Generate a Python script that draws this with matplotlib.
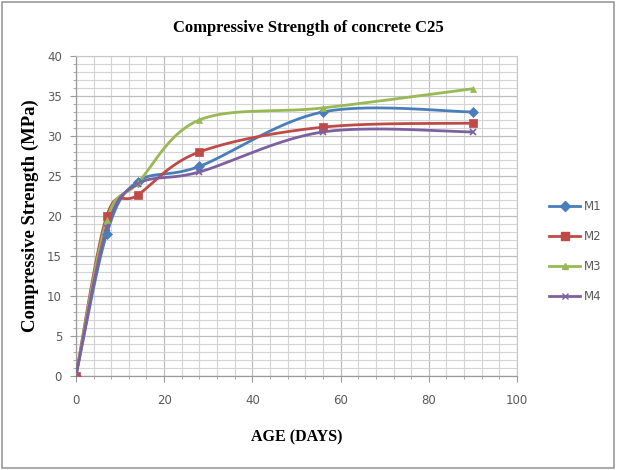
import numpy as np
import matplotlib
matplotlib.use("Agg")
import matplotlib.pyplot as plt
from matplotlib.patches import Rectangle
from matplotlib.ticker import MultipleLocator

age = [0, 7, 14, 28, 56, 90]
series_names = ["M1", "M2", "M3", "M4"]
m1 = [0, 17.8, 24.3, 26.2, 33.0, 33.0]
m2 = [0, 20.0, 22.6, 28.0, 31.1, 31.6]
m3 = [0, 19.5, 24.1, 32.0, 33.5, 35.9]
m4 = [0, 18.5, 24.0, 25.5, 30.5, 30.5]
colors = ["#4A7EBB", "#BE4B48", "#98B954", "#7D60A0"]
markers = ["D", "s", "^", "x"]

title = "Compressive Strength of concrete C25"
xlabel = "AGE (DAYS)"
ylabel = "Compressive Strength (MPa)"


def smooth(xs, ys, sx=4.41, sy=8.0, n=40):
    # Excel-like smoothing: Catmull-Rom Bezier in screen-scaled space
    P = np.column_stack([np.asarray(xs, float) * sx, np.asarray(ys, float) * sy])
    out = [P[0]]
    N = len(P)
    t = np.linspace(0, 1, n)[1:, None]
    for i in range(N - 1):
        p0 = P[i - 1] if i > 0 else P[i]
        p1 = P[i]
        p2 = P[i + 1]
        p3 = P[i + 2] if i + 2 < N else P[i + 1]
        b1 = p1 + (p2 - p0) / 6.0
        b2 = p2 - (p3 - p1) / 6.0
        seg = ((1 - t) ** 3) * p1 + 3 * ((1 - t) ** 2) * t * b1 + 3 * (1 - t) * t ** 2 * b2 + t ** 3 * p2
        out.extend(seg)
    out = np.array(out)
    return out[:, 0] / sx, out[:, 1] / sy


fig = plt.figure(figsize=(6.17, 4.70), dpi=100)
ax = fig.add_axes([0.123, 0.2, 0.715, 0.681])

for name, vals, c, mk in zip(series_names, [m1, m2, m3, m4], colors, markers):
    sxs, sys_ = smooth(age, vals)
    ax.plot(sxs, sys_, color=c, lw=2.0, solid_capstyle="round", zorder=3)
    ms = 5 if mk != "s" else 5.5
    ax.plot(age, vals, linestyle="none", marker=mk, color=c, markersize=ms,
            markeredgewidth=1.2 if mk == "x" else 0.5, zorder=4)
    ax.plot([], [], color=c, lw=2.0, marker=mk, markersize=ms, label=name)

ax.set_xlim(0, 100)
ax.set_ylim(0, 40)
ax.xaxis.set_major_locator(MultipleLocator(20))
ax.xaxis.set_minor_locator(MultipleLocator(4))
ax.yaxis.set_major_locator(MultipleLocator(5))
ax.yaxis.set_minor_locator(MultipleLocator(1))
ax.grid(which="major", color="#BDBDBD", lw=0.9)
ax.grid(which="minor", color="#D4D4D4", lw=0.8)
ax.set_axisbelow(True)
for s in ["top", "right"]:
    ax.spines[s].set_color("#C8C8C8")
    ax.spines[s].set_linewidth(0.8)
for s in ["left", "bottom"]:
    ax.spines[s].set_color("#9A9A9A")
    ax.spines[s].set_linewidth(0.9)
ax.tick_params(which="major", length=4, color="#9A9A9A", labelsize=8.5,
               labelcolor="#5A5A5A", pad=9)
ax.tick_params(which="minor", length=2.5, color="#9A9A9A")
ax.tick_params(axis="y", which="major", pad=6)

ax.set_xlabel(xlabel, fontfamily="Liberation Serif", fontweight="bold",
              fontsize=11.5, labelpad=16)
ax.set_ylabel(ylabel, fontfamily="Liberation Serif", fontweight="bold",
              fontsize=13.5, labelpad=6)
fig.text(0.5, 0.94, title, ha="center", va="center", fontfamily="Liberation Serif",
         fontweight="bold", fontsize=12)

leg = ax.legend(loc="center left", bbox_to_anchor=(0.873, 0.465), bbox_transform=fig.transFigure,
                frameon=False, fontsize=8.5, handlelength=2.6, labelspacing=1.45,
                handletextpad=0.3)
for t in leg.get_texts():
    t.set_color("#5A5A5A")

fig.patches.append(Rectangle((0.003, 0.004), 0.992, 0.992, transform=fig.transFigure,
                             fill=False, edgecolor="#9A9A9A", lw=1.2))

fig.savefig("out.png", dpi=100)
